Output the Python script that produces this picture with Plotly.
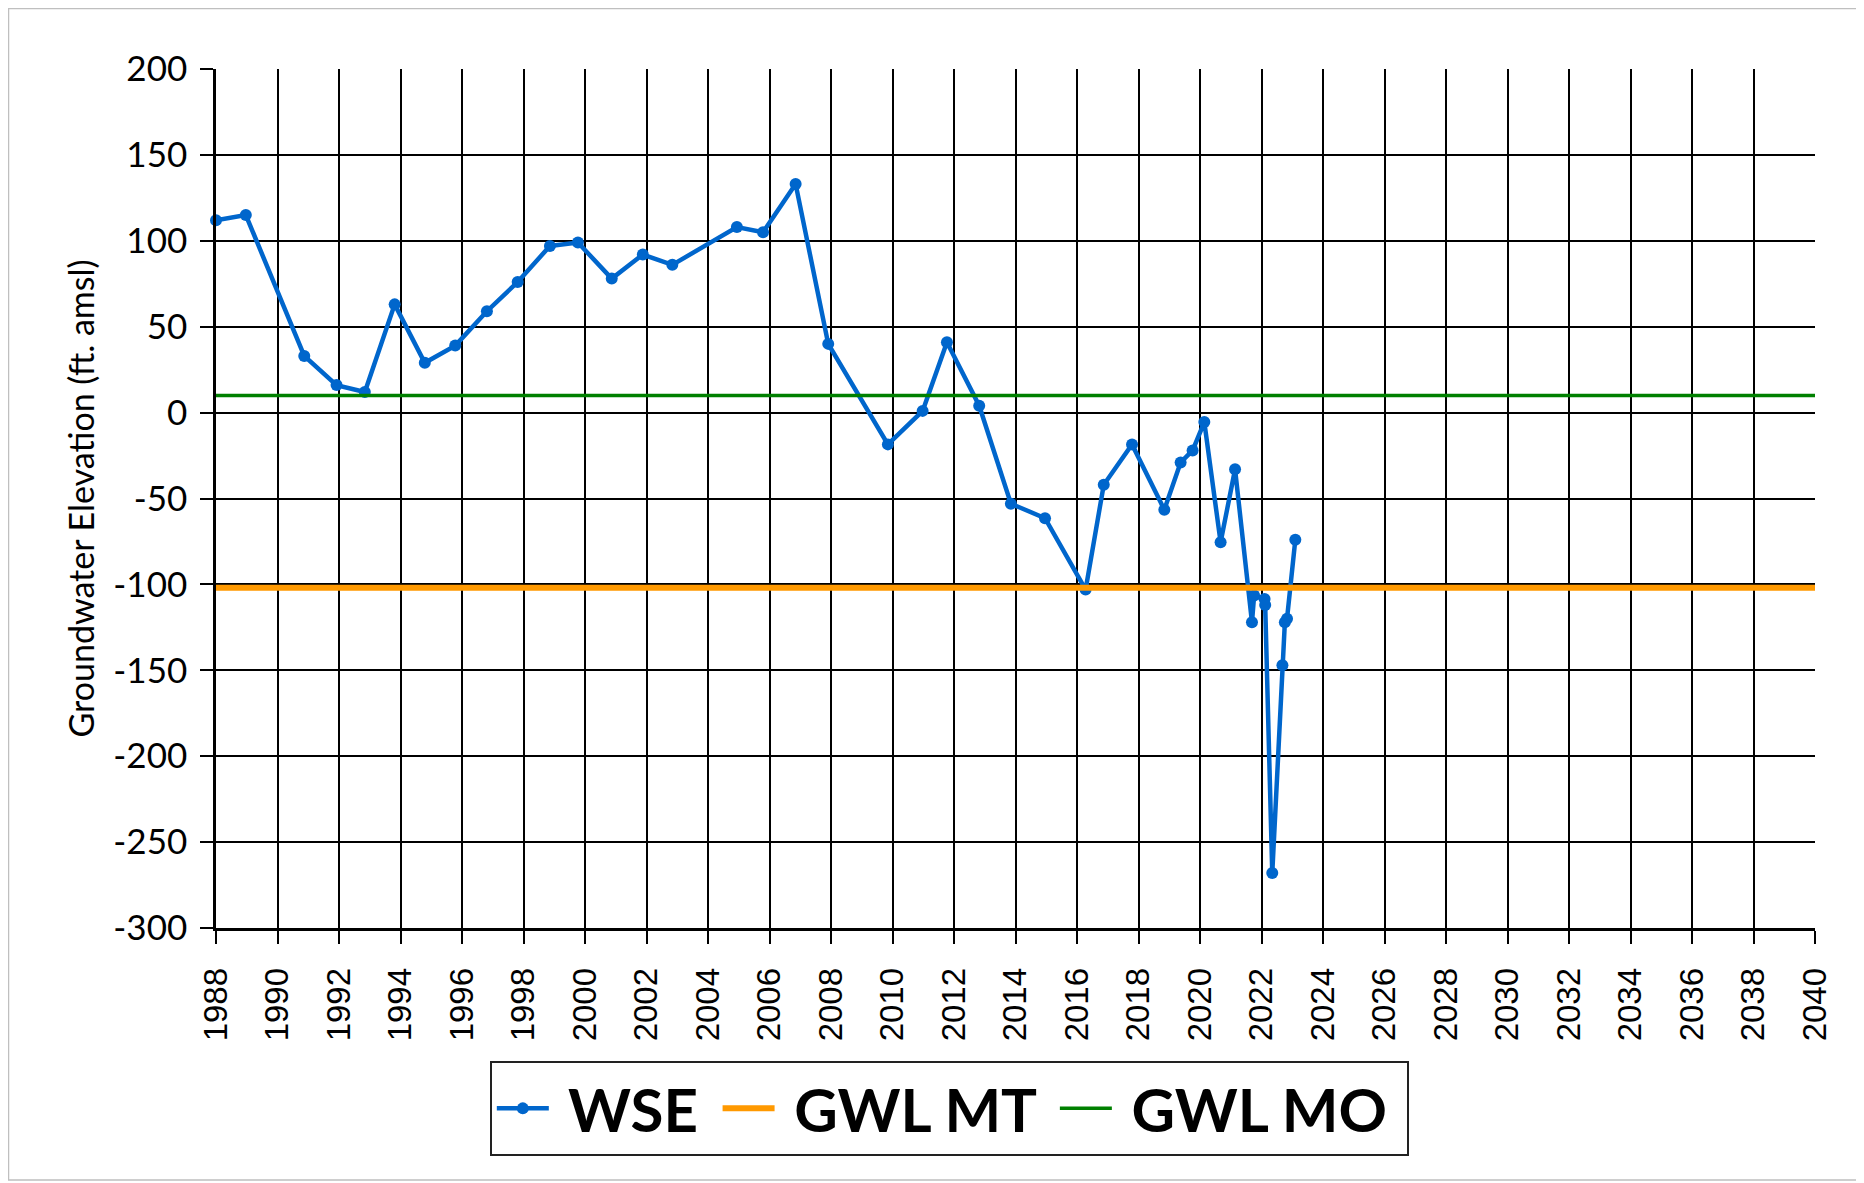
import plotly.graph_objects as go

# Decimal-year sample dates and water surface elevations (ft amsl)
years = [1988.0, 1988.97, 1990.87, 1991.92, 1992.84, 1993.81, 1994.79, 1995.78,
         1996.81, 1997.81, 1998.86, 1999.77, 2000.87, 2001.88, 2002.84, 2004.94,
         2005.79, 2006.85, 2007.91, 2009.85, 2010.98, 2011.77, 2012.82, 2013.85,
         2014.96, 2016.28, 2016.87, 2017.79, 2018.84, 2019.37, 2019.76, 2020.14,
         2020.67, 2021.14, 2021.69, 2021.76, 2022.10, 2022.12, 2022.35, 2022.68,
         2022.76, 2022.83, 2023.10]
wse = [112, 115, 33, 16, 12, 63, 29, 39,
       59, 76, 97, 99, 78, 92, 86, 108,
       105, 133, 40, -18.5, 1, 41, 4, -53,
       -61.5, -103, -42, -18.5, -56.5, -29, -22, -5.5,
       -75.5, -33, -122, -106.5, -108.5, -112, -268, -147,
       -122, -120, -74]

gwl_mt = -102
gwl_mo = 10
x_range = [1988, 2040]
y_range = [-300, 200]
y_tickvals = [200, 150, 100, 50, 0, -50, -100, -150, -200, -250, -300]
y_ticktext = ["200", "150", "100", "50", "0", "-50", "-100", "-150", "-200", "-250", "-300"]

NB = "\u00a0"

fig = go.Figure()
fig.add_trace(go.Scatter(
    x=years, y=wse, name=NB + "WSE" + NB, mode="lines+markers",
    line=dict(color="#0066CC", width=4.5),
    marker=dict(color="#0066CC", size=12),
    cliponaxis=False,
))
fig.add_trace(go.Scatter(
    x=x_range, y=[gwl_mt, gwl_mt], name=NB + "GWL MT" + NB, mode="lines",
    line=dict(color="#FF9900", width=6),
))
fig.add_trace(go.Scatter(
    x=x_range, y=[gwl_mo, gwl_mo], name=NB + "GWL MO" + NB, mode="lines",
    line=dict(color="#008000", width=3.5),
))

fig.update_xaxes(
    range=x_range, dtick=2, tick0=1988,
    showgrid=True, gridcolor="black", gridwidth=1.5,
    showline=True, linecolor="black", linewidth=2.5,
    ticks="outside", ticklen=13, tickcolor="black", tickwidth=1.5,
    tickangle=-90, ticklabelstandoff=11,
    tickfont=dict(family="Liberation Sans, Arial", size=33, color="black"),
    zeroline=False,
)
fig.update_yaxes(
    range=y_range, tickvals=y_tickvals, ticktext=y_ticktext,
    showgrid=True, gridcolor="black", gridwidth=1.5,
    showline=True, linecolor="black", linewidth=2.5,
    ticks="outside", ticklen=13, tickcolor="black", tickwidth=1.5,
    ticklabelstandoff=6,
    tickfont=dict(family="Lato", size=35, color="black"),
    title=dict(text="Groundwater Elevation (ft. amsl)",
               font=dict(family="Lato", size=34, color="black"), standoff=9),
    zeroline=False,
)

fig.update_layout(
    width=1864, height=1183,
    margin=dict(l=208, r=57, t=61, b=263, autoexpand=False),
    plot_bgcolor="white", paper_bgcolor="white",
    showlegend=True,
    legend=dict(
        orientation="h", xref="container", yref="container",
        x=0.505, xanchor="center", y=0.110, yanchor="top",
        bordercolor="#222222", borderwidth=2, bgcolor="white",
        font=dict(family="Lato", size=60, color="black", weight=700),
        itemwidth=52,
    ),
    shapes=[dict(type="rect", xref="paper", yref="paper",
                 x0=(0.5 - 208) / 1599, x1=(1849 - 208) / 1599,
                 y0=(920 - 1172) / 859, y1=(920 - 0.5) / 859,
                 line=dict(color="#BFBFBF", width=1.5), layer="below")],
)

fig.write_html("out.html")
